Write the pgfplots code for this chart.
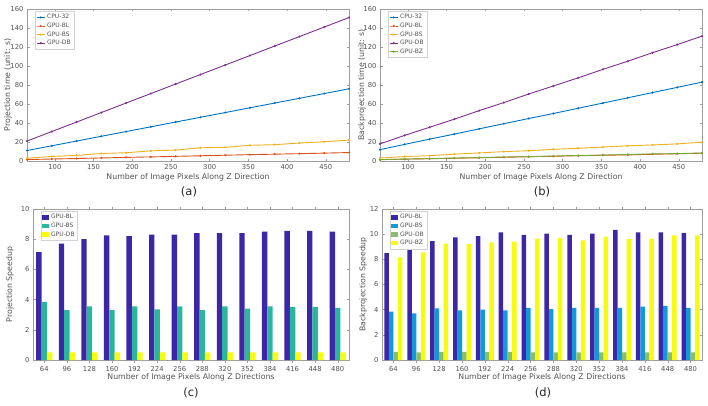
\documentclass[border=0pt]{standalone}
\usepackage{pgfplots}
\pgfplotsset{compat=1.18}
\usepackage{pgfplotstable}
\usepackage{fontspec}
\setmainfont{DejaVu Sans}
\definecolor{mblue}{rgb}{0,0.447,0.741}
\definecolor{morange}{rgb}{0.85,0.325,0.098}
\definecolor{myellow}{rgb}{0.929,0.694,0.125}
\definecolor{mpurple}{rgb}{0.494,0.184,0.556}
\definecolor{mgreen}{rgb}{0.466,0.674,0.188}
\definecolor{pnavy}{rgb}{0.2422,0.1504,0.6603}
\definecolor{pteal}{rgb}{0.17,0.71,0.62}
\definecolor{pcyan}{rgb}{0.07,0.60,0.86}
\definecolor{polive}{rgb}{0.55,0.74,0.42}
\definecolor{pyellow}{rgb}{0.976,0.983,0.054}
\definecolor{axgray}{gray}{0.62}
\definecolor{txgray}{gray}{0.32}

\pgfplotstableread{
x   cpu   bl   bs    db
64  11    1.5  2.9   21
96  16    2.1  4.8   31
128 21    2.6  5.9   41
160 26    3.2  7.9   51
192 31    3.8  8.7   61
224 36    4.3  10.7  71
256 41    4.9  11.5  81
288 46    5.5  13.9  91
320 51    6.1  14.4  101
352 56    6.7  16.5  111
384 61    7.2  17.2  121
416 66    7.7  18.9  131
448 71    8.3  20.3  141
480 76    8.9  22.0  151
}\projtime

\pgfplotstableread{
x   cpu   bl   bs    db     bz
64  12    1.4  3.1   18     1.5
96  17.5  2.0  4.7   27     2.0
128 23    2.4  5.6   35.5   2.5
160 28.3  2.9  7.2   44     3.1
192 33.8  3.4  8.5   53     3.6
224 39.3  3.9  9.9   61.5   4.2
256 44.7  4.5  10.8  70.5   4.6
288 50    5.0  12.3  79     5.2
320 55.5  5.6  13.4  87.5   5.8
352 61    6.1  14.7  96.5   6.2
384 66.5  6.4  16.0  105    6.9
416 72    7.1  16.9  114    7.5
448 77.5  7.6  18.0  122.5  7.8
480 83    8.2  19.8  131.5  8.4
}\backtime

\pgfplotstableread{
i  bl    bs    db
0  7.15  3.85  0.5
1  7.7   3.3   0.5
2  8.0   3.55  0.5
3  8.25  3.3   0.5
4  8.2   3.55  0.5
5  8.3   3.35  0.5
6  8.3   3.55  0.5
7  8.4   3.3   0.5
8  8.4   3.55  0.5
9  8.4   3.4   0.5
10 8.5   3.55  0.5
11 8.55  3.5   0.5
12 8.55  3.5   0.5
13 8.5   3.45  0.5
}\projspeed

\pgfplotstableread{
i  bl     bs    db    bz
0  8.5    3.85  0.65  8.15
1  8.95   3.7   0.6   8.55
2  9.45   4.1   0.65  9.25
3  9.75   3.95  0.65  9.2
4  9.85   4.0   0.65  9.35
5  10.15  3.95  0.65  9.4
6  9.95   4.15  0.6   9.65
7  10.05  4.05  0.6   9.7
8  9.95   4.15  0.6   9.5
9  10.05  4.15  0.6   9.8
10 10.35  4.15  0.6   9.6
11 10.15  4.25  0.6   9.65
12 10.15  4.3   0.6   9.9
13 10.1   4.15  0.6   9.9
}\backspeed

\pgfplotsset{
  common/.style={
    scale only axis,
    axis line style={axgray, line width=0.5pt},
    every tick/.style={axgray, line width=0.4pt},
    major tick length=2.5pt,
    tick align=inside,
    tick pos=both,
    tick label style={font=\fontsize{6.8}{8}\selectfont, text=txgray},
    label style={font=\fontsize{7.8}{9}\selectfont, text=txgray},
    /pgf/number format/assume math mode=true,
    legend style={font=\fontsize{6}{6.6}\selectfont, text=txgray, draw=gray!35, inner sep=1pt, row sep=-1.4pt, at={(0.025,0.985)}, anchor=north west, fill=white},
    legend cell align=left,
  },
  lineax/.style={common,
    width=322pt, height=152pt,
    xmin=64, xmax=480, ymin=0, ymax=160,
    xtick={100,150,...,450}, ytick={0,20,...,160},
    legend image code/.code={\draw[mark repeat=2,mark phase=2,##1] plot coordinates {(0pt,0pt) (4pt,0pt) (8pt,0pt)};},
    every axis plot/.append style={line width=0.9pt, mark=*, mark size=0.55pt},
    xlabel={Number of Image Pixels Along Z Direction},
    xlabel style={yshift=3pt},
  },
  barax/.style={common,
    height=151pt,
    xmin=-0.5, xmax=13.5, ymin=0,
    xtick={0,...,13}, xticklabels={64,96,128,160,192,224,256,288,320,352,384,416,448,480},
    xlabel={Number of Image Pixels Along Z Directions},
    xlabel style={yshift=4pt},
  },
  barleg/.style={
    legend image code/.code={\fill[##1] (0pt,-2.3pt) rectangle (7pt,2.3pt);},
  },
}

\begin{document}
\begin{tikzpicture}[x=1pt,y=1pt]
\useasboundingbox (0,0) rectangle (708,405);

% (a)
\begin{axis}[lineax, at={(27pt,244pt)}, anchor=south west,
  ylabel={Projection time (unit: s)},
  ylabel style={at={(axis description cs:-0.059,0.5)}, anchor=center}]
\addplot[mblue] table[x=x,y=cpu]{\projtime};
\addplot[morange] table[x=x,y=bl]{\projtime};
\addplot[myellow] table[x=x,y=bs]{\projtime};
\addplot[mpurple] table[x=x,y=db]{\projtime};
\legend{CPU-32,GPU-BL,GPU-BS,GPU-DB}
\end{axis}
\node[font=\fontsize{11.5}{13}\selectfont, text=black!85] at (189,213) {(a)};

% (b)
\begin{axis}[lineax, at={(380pt,244pt)}, anchor=south west,
  ylabel={Backprojection time (unit: s)},
  ylabel style={at={(axis description cs:-0.056,0.5)}, anchor=center}]
\addplot[mblue] table[x=x,y=cpu]{\backtime};
\addplot[morange] table[x=x,y=bl]{\backtime};
\addplot[myellow] table[x=x,y=bs]{\backtime};
\addplot[mpurple] table[x=x,y=db]{\backtime};
\addplot[mgreen] table[x=x,y=bz]{\backtime};
\legend{CPU-32,GPU-BL,GPU-BS,GPU-DB,GPU-BZ}
\end{axis}
\node[font=\fontsize{11.5}{13}\selectfont, text=black!85] at (542,213) {(b)};

% (c)
\begin{axis}[barax, at={(33pt,45pt)}, anchor=south west, width=316pt,
  ymax=10, ytick={0,2,...,10},
  ybar=0pt, bar width=5.4pt, barleg,
  ylabel={Projection Speedup},
  ylabel style={at={(axis description cs:-0.073,0.5)}, anchor=center}]
\addplot[fill=pnavy, draw=none] table[x=i,y=bl]{\projspeed};
\addplot[fill=pteal, draw=none] table[x=i,y=bs]{\projspeed};
\addplot[fill=pyellow, draw=none] table[x=i,y=db]{\projspeed};
\legend{GPU-BL,GPU-BS,GPU-DB}
\end{axis}
\node[font=\fontsize{11.5}{13}\selectfont, text=black!85] at (191,12) {(c)};

% (d)
\begin{axis}[barax, at={(382pt,45pt)}, anchor=south west, width=320pt,
  ymax=12, ytick={0,2,...,12},
  ybar=0pt, bar width=4.5pt, barleg,
  ylabel={Backprojection Speedup},
  ylabel style={at={(axis description cs:-0.059,0.5)}, anchor=center}]
\addplot[fill=pnavy, draw=none] table[x=i,y=bl]{\backspeed};
\addplot[fill=pcyan, draw=none] table[x=i,y=bs]{\backspeed};
\addplot[fill=polive, draw=none] table[x=i,y=db]{\backspeed};
\addplot[fill=pyellow, draw=none] table[x=i,y=bz]{\backspeed};
\legend{GPU-BL,GPU-BS,GPU-DB,GPU-BZ}
\end{axis}
\node[font=\fontsize{11.5}{13}\selectfont, text=black!85] at (543,12) {(d)};
\end{tikzpicture}
\end{document}
